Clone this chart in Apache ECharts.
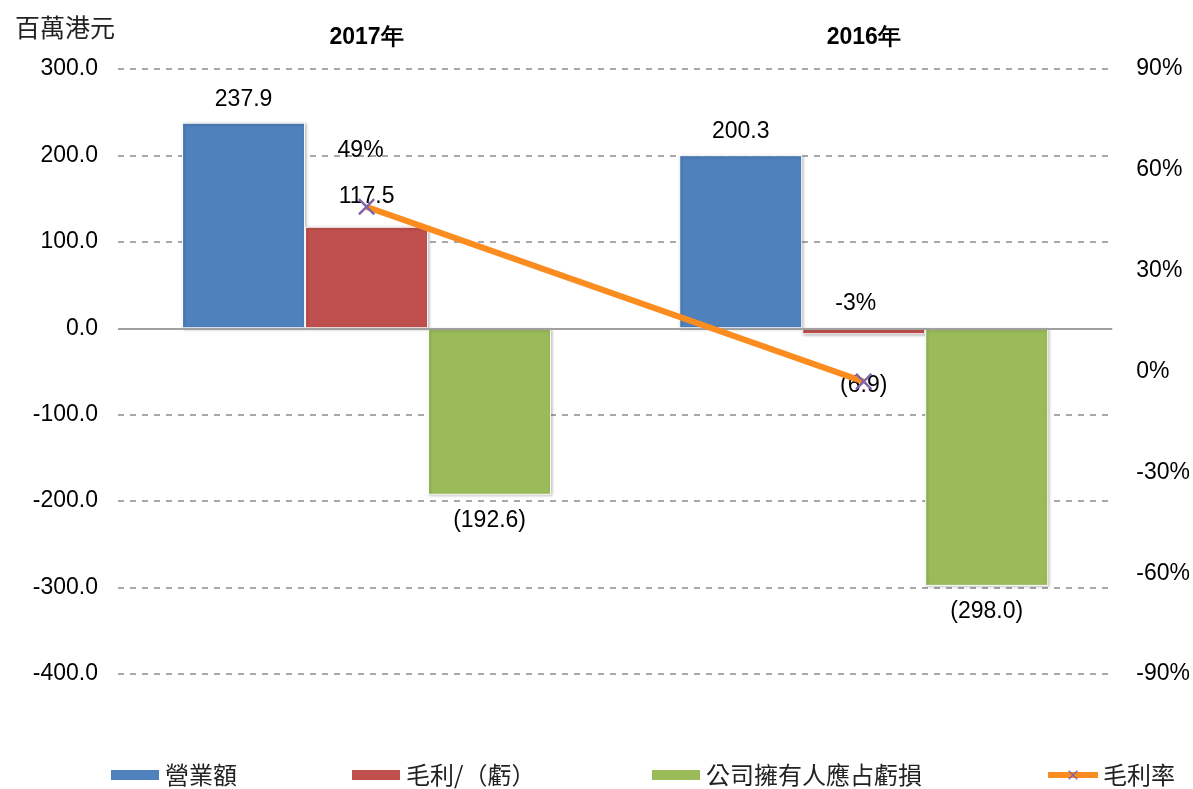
<!DOCTYPE html>
<html>
<head>
<meta charset="utf-8">
<script src="https://cdn.jsdelivr.net/npm/echarts@6/dist/echarts.min.js"></script>
<style>
  html, body { margin: 0; padding: 0; background: #fff; }
  #chart { width: 1193px; height: 789px; }
</style>
</head>
<body>
<div id="chart"></div>
<script>
// data
var years = ["2017年", "2016年"];
var revenue = [237.9, 200.3];        // 營業額
var grossProfit = [117.5, -6.9];     // 毛利/（虧）
var ownerLoss = [-192.6, -298.0];    // 公司擁有人應占虧損
var grossMargin = [49, -3];          // 毛利率 (%)
var leftTicks = { min: -400, max: 300, step: 100 };
var rightTicks = { min: -90, max: 90, step: 30 };

var numFont = "Liberation Sans, Arial, sans-serif";
var cjkFont = "Noto Sans CJK TC, sans-serif";
var fs = 23;

// excel style: negatives in brackets
function fmt(v) {
    return v < 0 ? "(" + Math.abs(v).toFixed(1) + ")" : v.toFixed(1);
}

var barShadow = {
    borderColor: "#fff",
    borderWidth: 1,
    shadowBlur: 3,
    shadowColor: "rgba(0,0,0,0.3)",
    shadowOffsetX: 1,
    shadowOffsetY: 1
};

var barLabel = {
    show: true,
    color: "#000",
    fontSize: fs,
    fontFamily: numFont,
    formatter: function (p) { return fmt(p.value); }
};

var crossPath = "path://M0,1L1,0L5,4L9,0L10,1L6,5L10,9L9,10L5,6L1,10L0,9L4,5Z";

var chart = echarts.init(document.getElementById("chart"));

var option = {
    animation: false,
    backgroundColor: "#fff",
    title: {
        text: "百萬港元",
        left: 10,
        top: 10,
        textStyle: { fontFamily: cjkFont, fontSize: 25, fontWeight: "normal", color: "#222" }
    },
    grid: { left: 118, right: 80, top: 69, bottom: 115 },
    legend: [
        { data: [{ name: "營業額", icon: "rect" }], left: 104 },
        { data: [{ name: "毛利/（虧）", icon: "rect" }], left: 345 },
        { data: [{ name: "公司擁有人應占虧損", icon: "rect" }], left: 645 },
        { data: ["毛利率"], left: 1040, lineStyle: { width: 6 } }
    ].map(function (l) {
        l.top = 758;
        l.itemWidth = 50;
        l.itemHeight = 12;
        l.itemGap = 4;
        l.textStyle = { fontFamily: cjkFont, fontSize: 24, color: "#222" };
        return l;
    }),
    xAxis: {
        type: "category",
        data: years,
        position: "top",
        axisLine: { show: false },
        axisTick: { show: false },
        axisLabel: { margin: 20, color: "#000", fontSize: fs, fontWeight: "bold", fontFamily: numFont }
    },
    yAxis: [
        {
            type: "value",
            min: leftTicks.min,
            max: leftTicks.max,
            interval: leftTicks.step,
            axisLine: { show: false },
            axisTick: { show: false },
            axisLabel: {
                margin: 20, color: "#000", fontSize: fs, fontFamily: numFont,
                formatter: function (v) { return v.toFixed(1); }
            },
            splitLine: { lineStyle: { color: "#8c8c8c", width: 1.5, type: [6, 6] } }
        },
        {
            type: "value",
            min: rightTicks.min,
            max: rightTicks.max,
            interval: rightTicks.step,
            alignTicks: false,
            axisLine: { show: false },
            axisTick: { show: false },
            splitLine: { show: false },
            axisLabel: {
                margin: 24, color: "#000", fontSize: fs, fontFamily: numFont,
                padding: [8, 0, 0, 0],
                formatter: "{value}%"
            }
        }
    ],
    series: [
        {
            name: "營業額",
            type: "bar",
            data: revenue,
            barWidth: 123,
            barGap: "0%",
            itemStyle: Object.assign({ color: "#4f81bd" }, barShadow),
            label: Object.assign({ position: "top", distance: 12 }, barLabel),
            markLine: {
                silent: true,
                symbol: "none",
                label: { show: false },
                lineStyle: { color: "#a0a0a0", width: 2, type: "solid" },
                data: [{ yAxis: 0 }]
            }
        },
        {
            name: "毛利/（虧）",
            type: "bar",
            data: grossProfit.map(function (v) {
                return v < 0
                    ? { value: v, label: { position: "bottom", distance: 40 } }
                    : { value: v, label: { position: "top", distance: 19 } };
            }),
            barWidth: 123,
            barGap: "0%",
            itemStyle: Object.assign({ color: "#c0504d" }, barShadow),
            label: barLabel
        },
        {
            name: "公司擁有人應占虧損",
            type: "bar",
            data: ownerLoss,
            barWidth: 123,
            barGap: "0%",
            itemStyle: Object.assign({ color: "#9bbb59" }, barShadow),
            label: Object.assign({ position: "bottom", distance: 14 }, barLabel)
        },
        {
            name: "毛利率",
            type: "line",
            yAxisIndex: 1,
            z: 5,
            data: grossMargin.map(function (v) {
                return v < 0
                    ? { value: v, label: { distance: 58, offset: [-8, 0] } }
                    : { value: v, label: { distance: 36, offset: [-6, 0] } };
            }),
            symbol: crossPath,
            symbolSize: 17,
            lineStyle: { color: "#fb8c1f", width: 6 },
            itemStyle: { color: "#7f64a8" },
            label: {
                show: true,
                position: "top",
                color: "#000",
                fontSize: fs,
                fontFamily: numFont,
                formatter: "{c}%"
            }
        }
    ]
};

chart.setOption(option);
window.addEventListener("resize", function () { chart.resize(); });
</script>
</body>
</html>
